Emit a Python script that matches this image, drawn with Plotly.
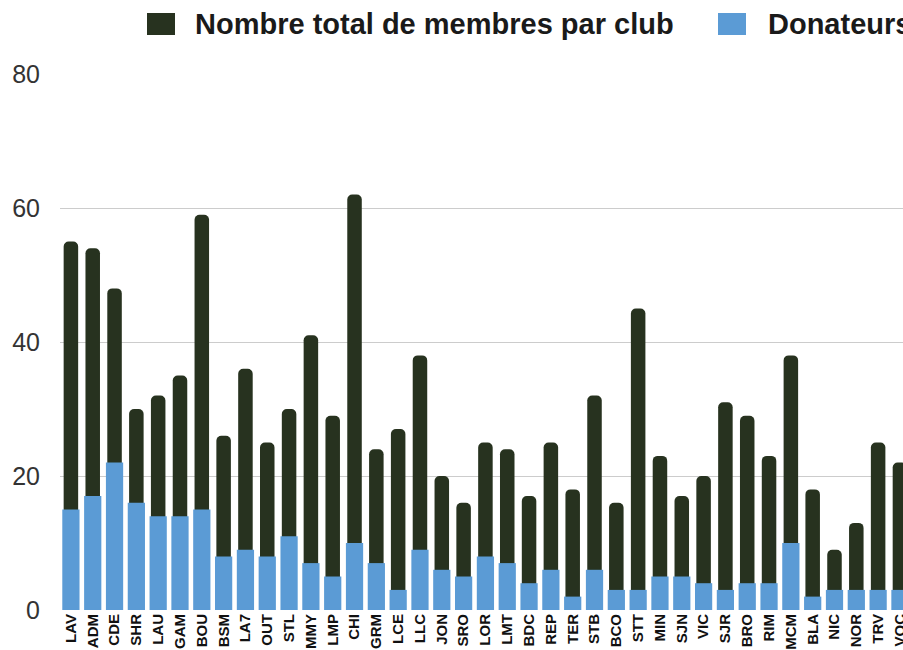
import plotly.graph_objects as go

clubs = ["LAV", "ADM", "CDE", "SHR", "LAU", "GAM", "BOU", "BSM", "LA7", "OUT",
         "STL", "MMY", "LMP", "CHI", "GRM", "LCE", "LLC", "JON", "SRO", "LOR",
         "LMT", "BDC", "REP", "TER", "STB", "BCO", "STT", "MIN", "SJN", "VIC",
         "SJR", "BRO", "RIM", "MCM", "BLA", "NIC", "NOR", "TRV", "VOC"]
total_membres = [55, 54, 48, 30, 32, 35, 59, 26, 36, 25,
                 30, 41, 29, 62, 24, 27, 38, 20, 16, 25,
                 24, 17, 25, 18, 32, 16, 45, 23, 17, 20,
                 31, 29, 23, 38, 18, 9, 13, 25, 22]
donateurs = [15, 17, 22, 16, 14, 14, 15, 8, 9, 8,
             11, 7, 5, 10, 7, 3, 9, 6, 5, 8,
             7, 4, 6, 2, 6, 3, 3, 5, 5, 4,
             3, 4, 4, 10, 2, 3, 3, 3, 3]
y_ticks = [0, 20, 40, 60, 80]
legend_labels = ["Nombre total de membres par club", "Donateurs"]

DARK = "#27321f"
BLUE = "#5b9bd5"
FONT = "Liberation Sans, Arial, sans-serif"

W, H = 903, 650
PL, PR, PT, PB = 60, 903, 74, 610


def px_x(x):
    return (x - PL) / (PR - PL)


def px_y(y):
    return (PB - y) / (PB - PT)


fig = go.Figure()
fig.add_trace(go.Bar(
    x=clubs, y=total_membres, name=legend_labels[0],
    marker=dict(color=DARK, cornerradius=5, line=dict(width=0)),
    width=0.665, showlegend=False,
))
fig.add_trace(go.Bar(
    x=clubs, y=donateurs, name=legend_labels[1],
    marker=dict(color=BLUE, line=dict(width=0)),
    width=0.79, showlegend=False,
))

# custom legend (larger swatches like the original)
legend_items = [(147, 175, 195, DARK, legend_labels[0]),
                (718, 746, 768, BLUE, legend_labels[1])]
shapes = []
annotations = []
for x0, x1, tx, col, lab in legend_items:
    shapes.append(dict(type="rect", xref="paper", yref="paper",
                       x0=px_x(x0), x1=px_x(x1), y0=px_y(35), y1=px_y(13),
                       fillcolor=col, line=dict(width=0), layer="above"))
    annotations.append(dict(xref="paper", yref="paper", x=px_x(tx - 2), y=px_y(24),
                            xanchor="left", yanchor="middle", showarrow=False,
                            text="<b>%s</b>" % lab,
                            font=dict(family=FONT, size=29, color="#1a1a1a")))

fig.update_layout(
    width=W, height=H,
    margin=dict(l=PL, r=W - PR, t=PT, b=H - PB, pad=0, autoexpand=False),
    barmode="overlay",
    plot_bgcolor="white", paper_bgcolor="white",
    shapes=shapes, annotations=annotations,
    xaxis=dict(
        type="category", range=[-0.5, 38.14], automargin=False,
        tickmode="array", tickvals=clubs, ticktext=clubs,
        tickangle=-90, showgrid=False, zeroline=False, showline=False,
        tickfont=dict(family=FONT, size=15, color="#111111", weight="bold"),
        ticks="",
    ),
    yaxis=dict(
        range=[0, 80], tickvals=y_ticks, showgrid=True, gridcolor="#cccccc",
        gridwidth=1, zeroline=False, showline=False, automargin=False,
        tickfont=dict(family=FONT, size=25, color="#333333"),
        ticks="outside", ticklen=14, tickcolor="rgba(0,0,0,0)",
    ),
)

fig.write_html("out.html", config={"displayModeBar": False},
               post_script="document.body.style.margin='0';")
